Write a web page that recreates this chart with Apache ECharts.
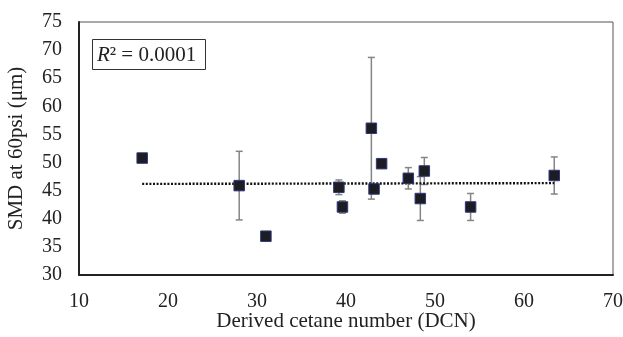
<!DOCTYPE html>
<html>
<head>
<meta charset="utf-8">
<script src="https://cdn.jsdelivr.net/npm/echarts@6/dist/echarts.min.js"></script>
<style>
  html, body { margin: 0; padding: 0; background: #fff; }
  #chart { width: 623px; height: 337px; }
</style>
</head>
<body>
<div id="chart"></div>
<script>
// Derived cetane number of each fuel
const dcn = [17.1, 28.0, 31.0, 39.2, 39.6, 42.85, 43.15, 44.0, 47.0, 48.35, 48.8, 54.0, 63.4];
// Sauter mean diameter at 60 psi (µm)
const smd = [50.8, 45.9, 36.9, 45.6, 42.1, 56.1, 45.3, 49.8, 47.2, 43.6, 48.5, 42.1, 47.7];
// Standard deviation of SMD (null = no bar)
const smdErr = [null, 6.1, null, 1.3, 1.1, 12.6, null, null, 1.9, 3.9, 2.4, 2.4, 3.3];

const xTicks = { min: 10, max: 70, step: 10 };
const yTicks = { min: 30, max: 75, step: 5 };

// Least-squares linear fit
function linearFit(xs, ys) {
  const n = xs.length;
  const mx = xs.reduce((a, b) => a + b, 0) / n;
  const my = ys.reduce((a, b) => a + b, 0) / n;
  let sxy = 0, sxx = 0, syy = 0;
  for (let i = 0; i < n; i++) {
    sxy += (xs[i] - mx) * (ys[i] - my);
    sxx += (xs[i] - mx) ** 2;
    syy += (ys[i] - my) ** 2;
  }
  const slope = sxy / sxx;
  return { slope, intercept: my - slope * mx, r2: (sxy * sxy) / (sxx * syy) };
}
const fit = linearFit(dcn, smd);
const xLo = Math.min(...dcn), xHi = Math.max(...dcn);
const trend = [[xLo, fit.intercept + fit.slope * xLo], [xHi, fit.intercept + fit.slope * xHi]];

const points = dcn.map((x, i) => [x, smd[i]]);
const bars = dcn.map((x, i) => [x, smd[i], smdErr[i]]).filter(d => d[2] != null);

const FONT = '"Liberation Serif", "Times New Roman", serif';
const chart = echarts.init(document.getElementById('chart'), null, { renderer: 'canvas' });

chart.setOption({
  animation: false,
  backgroundColor: '#fff',
  textStyle: { fontFamily: FONT },
  grid: {
    left: 79, top: 22, right: 10, bottom: 62,
    outerBoundsMode: 'none',
    containLabel: false,
    show: true, borderColor: '#555', borderWidth: 1
  },
  xAxis: {
    type: 'value',
    min: xTicks.min, max: xTicks.max, interval: xTicks.step,
    name: 'Derived cetane number (DCN)',
    nameLocation: 'middle', nameGap: 36, nameMoveOverlap: false,
    nameTextStyle: { fontFamily: FONT, fontSize: 21, color: '#222' },
    axisLine: { show: true, onZero: false, lineStyle: { color: '#222', width: 2 } },
    axisTick: { show: false },
    splitLine: { show: false },
    axisLabel: { fontFamily: FONT, fontSize: 20, color: '#222', margin: 17 }
  },
  yAxis: {
    type: 'value',
    min: yTicks.min, max: yTicks.max, interval: yTicks.step,
    name: 'SMD at 60psi (μm)',
    nameLocation: 'middle', nameGap: 52, nameMoveOverlap: false,
    nameTextStyle: { fontFamily: FONT, fontSize: 21, color: '#222' },
    axisLine: { show: true, onZero: false, lineStyle: { color: '#222', width: 2 } },
    axisTick: { show: false },
    splitLine: { show: false },
    axisLabel: { fontFamily: FONT, fontSize: 20, color: '#222', margin: 17 }
  },
  graphic: [{
    type: 'group',
    left: 92, top: 39,
    children: [
      { type: 'rect', shape: { x: 0.5, y: 0.5, width: 113, height: 30 },
        style: { fill: '#fff', stroke: '#333', lineWidth: 1 } },
      { type: 'text', x: 5, y: 16,
        style: {
          text: '{it|R}² = ' + fit.r2.toFixed(4),
          verticalAlign: 'middle',
          font: '21px ' + FONT, fill: '#222',
          rich: { it: { fontStyle: 'italic', fontSize: 21, fontFamily: FONT, color: '#222' } }
        } }
    ]
  }],
  series: [
    {
      type: 'custom',
      name: 'error',
      data: bars,
      z: 2,
      renderItem: function (params, api) {
        const x = api.value(0), y = api.value(1), e = api.value(2);
        const top = api.coord([x, y + e]);
        const bot = api.coord([x, y - e]);
        const cap = 3.5;
        const st = { stroke: '#858585', lineWidth: 1.5 };
        return {
          type: 'group',
          children: [
            { type: 'line', shape: { x1: top[0], y1: top[1], x2: bot[0], y2: bot[1] }, style: st },
            { type: 'line', shape: { x1: top[0] - cap, y1: top[1], x2: top[0] + cap, y2: top[1] }, style: st },
            { type: 'line', shape: { x1: bot[0] - cap, y1: bot[1], x2: bot[0] + cap, y2: bot[1] }, style: st }
          ]
        };
      }
    },
    {
      type: 'line',
      name: 'trend',
      data: trend,
      showSymbol: false,
      z: 3,
      lineStyle: { color: '#111', width: 2.4, type: [2, 1.6] }
    },
    {
      type: 'scatter',
      name: 'SMD',
      data: points,
      symbol: 'rect',
      symbolSize: 10.5,
      z: 4,
      itemStyle: { color: '#1c1c22', borderColor: '#2d3a7a', borderWidth: 1, opacity: 1 }
    }
  ]
});
</script>
</body>
</html>
